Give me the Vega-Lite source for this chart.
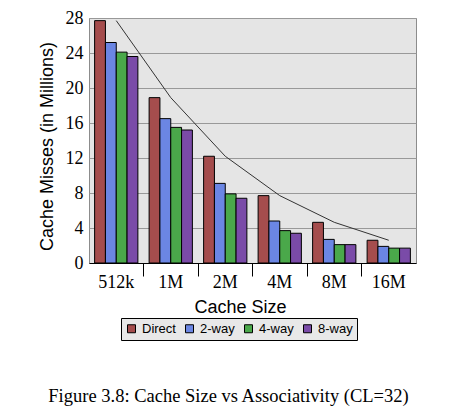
{
  "$schema": "https://vega.github.io/schema/vega-lite/v6.json",
  "autosize": "none",
  "width": 327,
  "height": 245,
  "padding": {"left": 89, "top": 18, "right": 46, "bottom": 149},
  "background": "white",
  "config": {
    "view": {"fill": "#e5e5e5", "stroke": "#8c8c8c", "strokeWidth": 1}
  },
  "title": {
    "text": "Figure 3.8: Cache Size vs Associativity (CL=32)",
    "orient": "bottom",
    "anchor": "middle",
    "dx": -24,
    "offset": 46,
    "font": "Liberation Serif",
    "fontSize": 18.5,
    "fontWeight": "normal",
    "color": "black"
  },
  "data": {
    "values": [
      {"size": "512k", "assoc": "Direct", "misses": 27.7},
      {"size": "512k", "assoc": "2-way", "misses": 25.2},
      {"size": "512k", "assoc": "4-way", "misses": 24.1},
      {"size": "512k", "assoc": "8-way", "misses": 23.6},
      {"size": "1M", "assoc": "Direct", "misses": 18.9},
      {"size": "1M", "assoc": "2-way", "misses": 16.5},
      {"size": "1M", "assoc": "4-way", "misses": 15.5},
      {"size": "1M", "assoc": "8-way", "misses": 15.2},
      {"size": "2M", "assoc": "Direct", "misses": 12.2},
      {"size": "2M", "assoc": "2-way", "misses": 9.1},
      {"size": "2M", "assoc": "4-way", "misses": 7.9},
      {"size": "2M", "assoc": "8-way", "misses": 7.4},
      {"size": "4M", "assoc": "Direct", "misses": 7.7},
      {"size": "4M", "assoc": "2-way", "misses": 4.8},
      {"size": "4M", "assoc": "4-way", "misses": 3.7},
      {"size": "4M", "assoc": "8-way", "misses": 3.4},
      {"size": "8M", "assoc": "Direct", "misses": 4.65},
      {"size": "8M", "assoc": "2-way", "misses": 2.7},
      {"size": "8M", "assoc": "4-way", "misses": 2.1},
      {"size": "8M", "assoc": "8-way", "misses": 2.1},
      {"size": "16M", "assoc": "Direct", "misses": 2.6},
      {"size": "16M", "assoc": "2-way", "misses": 1.9},
      {"size": "16M", "assoc": "4-way", "misses": 1.7},
      {"size": "16M", "assoc": "8-way", "misses": 1.7}
    ]
  },
  "encoding": {
    "x": {
      "field": "size",
      "type": "nominal",
      "sort": ["512k", "1M", "2M", "4M", "8M", "16M"],
      "scale": {"paddingInner": 0, "paddingOuter": 0},
      "axis": {
        "title": "Cache Size",
        "titleFont": "Liberation Sans",
        "titleFontSize": 18,
        "titleFontWeight": "normal",
        "titleColor": "black",
        "titlePadding": 7,
        "titleX": 151,
        "labelFont": "Liberation Serif",
        "labelFontSize": 18,
        "labelColor": "black",
        "labelAngle": 0,
        "labelPadding": -3,
        "bandPosition": 0,
        "tickSize": 13,
        "tickColor": {"condition": {"test": "datum.value === '512k'", "value": "transparent"}, "value": "black"},
        "domainColor": "black",
        "grid": false
      }
    },
    "y": {
      "field": "misses",
      "type": "quantitative",
      "scale": {"domain": [0, 28], "nice": false},
      "axis": {
        "title": "Cache Misses (in Millions)",
        "titleFont": "Liberation Sans",
        "titleFontSize": 18,
        "titleFontWeight": "normal",
        "titleColor": "black",
        "titlePadding": 9,
        "titleY": 128,
        "labelFont": "Liberation Serif",
        "labelFontSize": 18,
        "labelColor": "black",
        "labelPadding": 6,
        "values": [0, 4, 8, 12, 16, 20, 24, 28],
        "ticks": false,
        "domain": false,
        "grid": true,
        "gridColor": "#999999",
        "gridWidth": 1,
        "gridOpacity": 1
      }
    }
  },
  "layer": [
    {
      "mark": {"type": "bar", "stroke": "black", "strokeWidth": 1},
      "encoding": {
        "xOffset": {
          "field": "assoc",
          "type": "nominal",
          "sort": ["Direct", "2-way", "4-way", "8-way"],
          "scale": {"paddingInner": 0, "paddingOuter": 0.52}
        },
        "color": {
          "field": "assoc",
          "type": "nominal",
          "sort": ["Direct", "2-way", "4-way", "8-way"],
          "scale": {
            "domain": ["Direct", "2-way", "4-way", "8-way"],
            "range": ["#a54d4d", "#6b86e3", "#4aa84a", "#7a4ba8"]
          },
          "legend": {
            "title": null,
            "orient": "none",
            "direction": "horizontal",
            "legendX": 32,
            "legendY": 300,
            "padding": 4,
            "strokeColor": "black",
            "fillColor": "#e8e8e8",
            "symbolType": "square",
            "symbolSize": 64,
            "symbolStrokeColor": "black",
            "symbolStrokeWidth": 1,
            "symbolOpacity": 1,
            "labelFont": "Liberation Sans",
            "labelFontSize": 13,
            "labelColor": "black",
            "labelOffset": 4,
            "columnPadding": 7
          }
        }
      }
    },
    {
      "transform": [{"filter": "datum.assoc === 'Direct'"}],
      "mark": {"type": "line", "color": "#333333", "strokeWidth": 1},
      "encoding": {}
    }
  ]
}
